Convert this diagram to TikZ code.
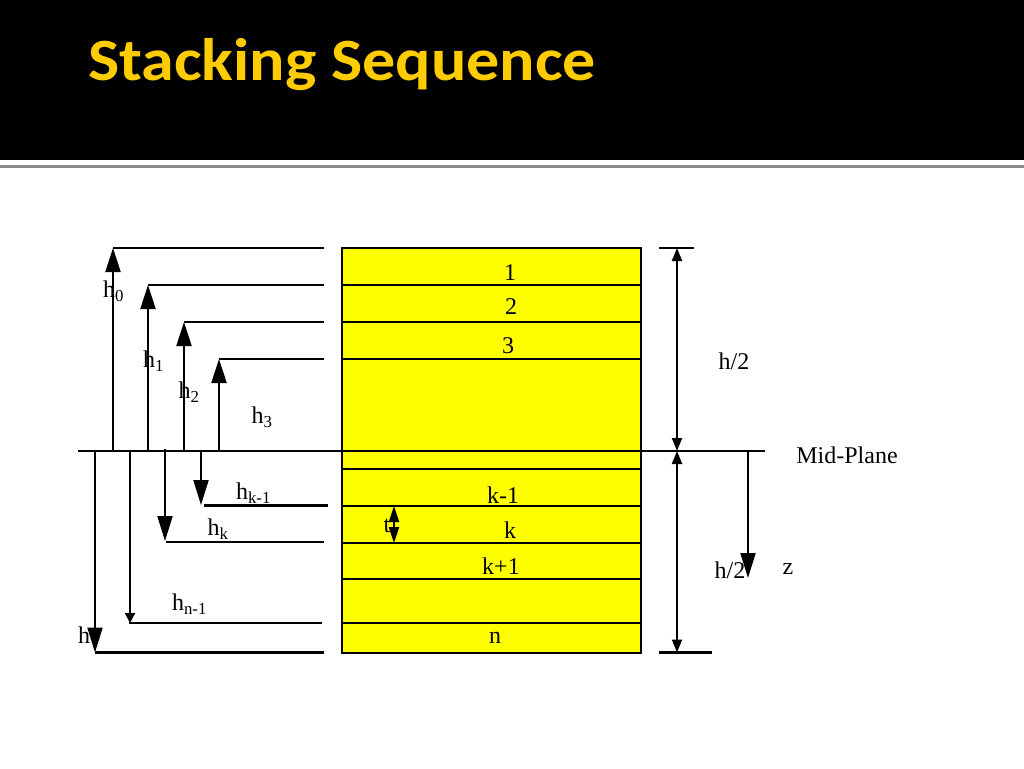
\documentclass[tikz,border=0pt]{standalone}
\usepackage{fontspec}
\setmainfont{Liberation Serif}
\newfontfamily\titlefont{Carlito}
\usetikzlibrary{arrows.meta}
\definecolor{titlegold}{RGB}{255,204,0}
\definecolor{plyyellow}{RGB}{255,255,0}
\tikzset{
  rule/.style={line width=2.8pt},
  shaft/.style={line width=2.1pt},
  bigtip/.style={-{Triangle[length=25pt,width=15pt]}},
  uptip/.style={-{Triangle[length=24pt,width=15pt]}},
  smalltip/.style={-{Triangle[length=10pt,width=10pt]}},
  dimtip/.style={{Triangle[length=13pt,width=10pt]}-{Triangle[length=13pt,width=10pt]}},
  thicktip/.style={{Triangle[length=16pt,width=10pt]}-{Triangle[length=16pt,width=10pt]}},
  lbl/.style={inner sep=0pt,font=\fontsize{24}{24}\selectfont},
}
\newcommand{\hsub}[1]{h\textsubscript{#1}}
\begin{document}
\begin{tikzpicture}[x=1pt,y=-1pt]
\useasboundingbox (0,0) rectangle (1024,768);
\fill [black] (0,0) rectangle (1024,160);
\fill [black!45] (0,165) rectangle (1024,167.5);
\node (title) [anchor=base west,inner sep=0pt,text=titlegold,font=\titlefont\bfseries\fontsize{60}{60}\selectfont] at (88,81) {\scalebox{1.1}[1]{Stacking Sequence}};
% stack of plies
\fill [plyyellow] (342,248) rectangle (641,653);
\foreach \y in {285,322,359,469,506,543,579,623} {\draw [rule] (342,\y) -- (641,\y);}
\draw [rule] (342,248) rectangle (641,653);
% mid-plane and the level lines
\coordinate (midL) at (78,451);
\coordinate (midR) at (765,451);
\draw [rule] (midL) -- (midR);
\foreach \name/\xa/\xb/\y in {a/113/324/248,b/148/324/285,c/184/324/322,d/219/324/359,e/204/328/505.5,f/166/324/542,g/129/322/623,i/95/324/652.5} {
  \coordinate (\name0) at (\xa,\y);
  \coordinate (\name1) at (\xb,\y);
  \draw [rule] (\name0) -- (\name1);
}
% arrows up from the mid-plane
\foreach \name in {a,b,c,d} {\draw [shaft,uptip] (\name0 |- midL) -- (\name0);}
% arrows down from the mid-plane
\draw [shaft,bigtip] (i0 |- midL) -- (i0);
\draw [shaft,smalltip] (130,451) -- (130,623);
\draw [shaft,bigtip] (165,449) -- (165,541);
\draw [shaft,bigtip] (201,451) -- (201,505);
% right side
\coordinate (topL) at (659,248);
\coordinate (topR) at (694,248);
\coordinate (botL) at (659,652.5);
\coordinate (botR) at (712,652.5);
\coordinate (topM) at (677,248);
\coordinate (midM) at (677,451);
\coordinate (botM) at (677,652.5);
\draw [rule] (topL) -- (topR);
\draw [rule] (botL) -- (botR);
\draw [shaft,dimtip] (topM) -- (midM);
\draw [shaft,dimtip] (midM) -- (botM);
\coordinate (zTop) at (748,451);
\coordinate (zEnd) at (748,578);
\draw [shaft,bigtip] (zTop) -- (zEnd);
\coordinate (tTop) at (394,506);
\coordinate (tBot) at (394,543);
\draw [shaft,thicktip] (tTop) -- (tBot);
% labels
\foreach \name/\x/\y/\txt in {p1/510/273/1,p2/511/307/2,p3/508/346/3,pk1/503/495/k-1,pk/510/530/k,pk2/501/566/k+1,pn/495/638/n,tl/387/526/t,half1/734/361/{h/2},mid/847/455/Mid-Plane,half2/730/570/{h/2},zl/788/569/z} {
  \node (\name) [lbl] at (\x,\y) {\txt};
}
\node (h0) [lbl] at (113.5,291) {\hsub{0}};
\node (h1) [lbl] at (153.5,361) {\hsub{1}};
\node (h2) [lbl] at (189,392) {\hsub{2}};
\node (h3) [lbl] at (262,417) {\hsub{3}};
\node (hk1) [lbl] at (253.5,493) {\hsub{k-1}};
\node (hk) [lbl] at (218,529) {\hsub{k}};
\node (hn1) [lbl] at (189.5,604) {\hsub{n-1}};
\node (hn) [lbl] at (84,635) {h};
\end{tikzpicture}
\end{document}
